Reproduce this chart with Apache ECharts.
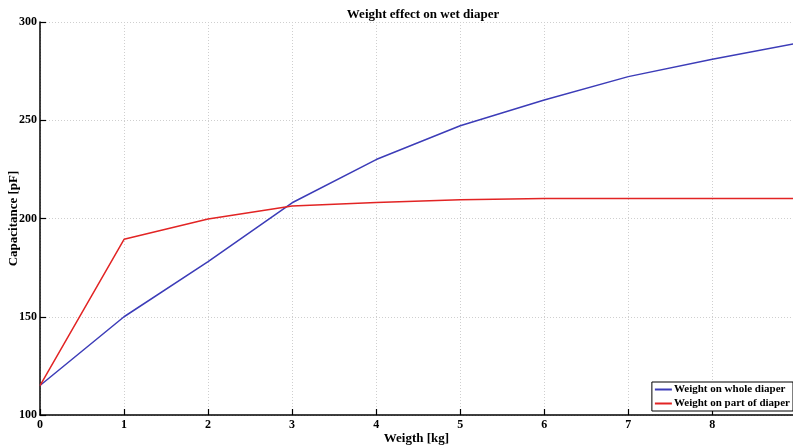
<!DOCTYPE html>
<html>
<head>
<meta charset="utf-8">
<script src="https://cdn.jsdelivr.net/npm/echarts@6/dist/echarts.min.js"></script>
<style>html,body{margin:0;padding:0;background:#fff}#c{width:793px;height:448px}</style>
</head>
<body>
<div id="c"></div>
<script>
var weights = [0, 1, 2, 3, 4, 5, 6, 7, 8, 9];
var wholeDiaper = [115, 150, 178, 208, 230, 247.2, 260.3, 272.2, 281, 289.1];
var partDiaper = [115, 189.4, 199.7, 206.4, 208.2, 209.6, 210.2, 210.2, 210.2, 210.2];
var seriesNames = ['Weight on whole diaper', 'Weight on part of diaper'];

var font = 'Liberation Serif';
function pairs(xs, ys) { return xs.map(function (x, i) { return [x, ys[i]]; }); }

var chart = echarts.init(document.getElementById('c'), null, {renderer: 'canvas'});
chart.setOption({
  animation: false,
  backgroundColor: '#fff',
  title: {
    text: 'Weight effect on wet diaper',
    left: 418, top: 3, textAlign: 'center',
    textStyle: {fontFamily: font, fontWeight: 'bold', fontSize: 13, color: '#000'}
  },
  grid: {left: 40, right: 0, top: 22, bottom: 33, containLabel: false, outerBoundsMode: 'none'},
  legend: {
    orient: 'vertical', right: 0, bottom: 37,
    data: seriesNames,
    icon: 'rect', itemWidth: 17, itemHeight: 2, itemGap: 3,
    padding: [2, 3, 2, 3],
    borderColor: '#000', borderWidth: 1, backgroundColor: '#fff',
    textStyle: {fontFamily: font, fontWeight: 'bold', fontSize: 11, color: '#000', padding: [0, 0, 0, -3]}
  },
  xAxis: {
    type: 'value', min: 0, max: 8.96, interval: 1,
    name: 'Weigth [kg]', nameLocation: 'middle', nameGap: 17, nameMoveOverlap: false,
    nameTextStyle: {fontFamily: font, fontWeight: 'bold', fontSize: 13, color: '#000'},
    axisLine: {lineStyle: {color: '#000', width: 1.5}},
    axisTick: {inside: true, length: 6, lineStyle: {color: '#000', width: 1.2}},
    axisLabel: {showMaxLabel: false, margin: 4, fontFamily: font, fontWeight: 'bold', fontSize: 12, color: '#000'},
    splitLine: {show: true, lineStyle: {color: '#cfcfcf', type: [1, 2], width: 1}}
  },
  yAxis: {
    type: 'value', min: 100, max: 300, interval: 50,
    name: 'Capacitance [pF]', nameLocation: 'middle', nameGap: 20, nameMoveOverlap: false,
    nameTextStyle: {fontFamily: font, fontWeight: 'bold', fontSize: 13, color: '#000'},
    axisLine: {show: true, lineStyle: {color: '#000', width: 1.5}},
    axisTick: {show: true, inside: true, length: 6, lineStyle: {color: '#000', width: 1.2}},
    axisLabel: {margin: 3, fontFamily: font, fontWeight: 'bold', fontSize: 12, color: '#000'},
    splitLine: {show: true, lineStyle: {color: '#cfcfcf', type: [1, 2], width: 1}}
  },
  series: [
    {name: seriesNames[0], type: 'line', data: pairs(weights, wholeDiaper), symbol: 'none',
     lineStyle: {color: '#3c3cb8', width: 1.5}, itemStyle: {color: '#3c3cb8'}, clip: true},
    {name: seriesNames[1], type: 'line', data: pairs(weights, partDiaper), symbol: 'none',
     lineStyle: {color: '#e22424', width: 1.5}, itemStyle: {color: '#e22424'}, clip: true}
  ]
});
</script>
</body>
</html>
